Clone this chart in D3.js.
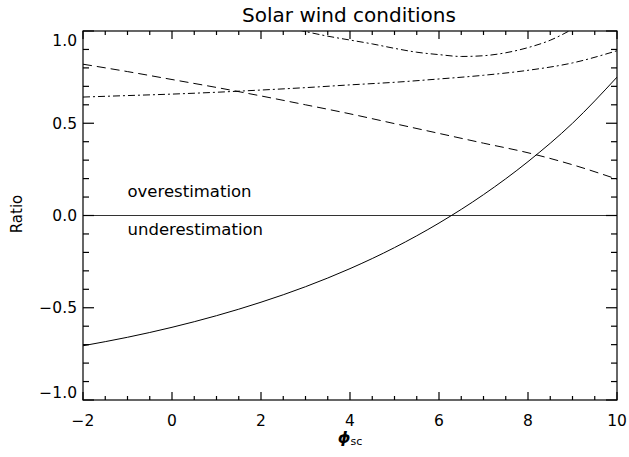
<!DOCTYPE html>
<html>
<head>
<meta charset="utf-8">
<script src="https://cdn.jsdelivr.net/npm/d3@7"></script>
<style>
  html, body { margin: 0; padding: 0; background: #fff; }
  svg { display: block; }
  text { font-family: "DejaVu Sans", sans-serif; fill: #000; }
</style>
</head>
<body>
<svg id="chart" width="629" height="457"></svg>
<script>
// ---- data ----
const titleText = "Solar wind conditions";
const xTicks = [-2, 0, 2, 4, 6, 8, 10];
const yTicks = [-1.0, -0.5, 0.0, 0.5, 1.0];
const xMinorTicks = [-1.5, -1, -0.5, 0.5, 1, 1.5, 2.5, 3, 3.5, 4.5, 5, 5.5, 6.5, 7, 7.5, 8.5, 9, 9.5];
const yMinorTicks = [-0.9, -0.8, -0.7, -0.6, -0.4, -0.3, -0.2, -0.1, 0.1, 0.2, 0.3, 0.4, 0.6, 0.7, 0.8, 0.9];
const xDomain = [-2, 10];
const yDomain = [-1, 1];

const solidX = [-2, -1, 0, 1, 2, 3, 4, 5, 6, 7, 8, 9, 10];
const solidY = [-0.706, -0.660, -0.606, -0.543, -0.470, -0.386, -0.288, -0.174, -0.041, 0.113, 0.292, 0.500, 0.750];

const dashedX = [-2, -1, 0, 1, 2, 3, 4, 5, 6, 7, 8, 9, 10];
const dashedY = [0.82, 0.78, 0.737, 0.694, 0.648, 0.600, 0.551, 0.498, 0.445, 0.392, 0.340, 0.275, 0.197];

const dashDotLowX = [-2, -1, 0, 1, 2, 3, 4, 5, 6, 7, 8, 9, 10];
const dashDotLowY = [0.642, 0.65, 0.658, 0.668, 0.68, 0.693, 0.708, 0.722, 0.74, 0.76, 0.787, 0.827, 0.893];

const dashDotHighX = [2.5, 3, 3.5, 4, 4.5, 5, 5.5, 6, 6.5, 7, 7.5, 8, 8.5, 9, 9.3];
const dashDotHighY = [1.025, 0.997, 0.972, 0.951, 0.93, 0.906, 0.885, 0.872, 0.862, 0.866, 0.882, 0.91, 0.95, 1.01, 1.05];

const zeroLineX = [-2, 10];
const zeroLineY = [0, 0];

const annotations = [
  { text: "overestimation", x: -1, y: 0.10 },
  { text: "underestimation", x: -1, y: -0.105 }
];

// ---- layout ----
const L = 83, R = 617, T = 31, B = 400;
const svg = d3.select("#chart");

const x = d3.scaleLinear().domain(xDomain).range([L, R]);
const y = d3.scaleLinear().domain(yDomain).range([B, T]);

svg.append("defs").append("clipPath").attr("id", "plotclip")
  .append("rect").attr("x", L).attr("y", T).attr("width", R - L).attr("height", B - T);

const zip = (xs, ys) => xs.map((v, i) => [v, ys[i]]);
const line = d3.line().x(d => x(d[0])).y(d => y(d[1])).curve(d3.curveMonotoneX);

const plot = svg.append("g").attr("clip-path", "url(#plotclip)");

plot.append("path").datum(zip(zeroLineX, zeroLineY)).attr("d", line)
  .attr("fill", "none").attr("stroke", "#333").attr("stroke-width", 1);

plot.append("path").datum(zip(solidX, solidY)).attr("d", line)
  .attr("fill", "none").attr("stroke", "#000").attr("stroke-width", 1);

plot.append("path").datum(zip(dashedX, dashedY)).attr("d", line)
  .attr("fill", "none").attr("stroke", "#000").attr("stroke-width", 1)
  .attr("stroke-dasharray", "9,5");

plot.append("path").datum(zip(dashDotLowX, dashDotLowY)).attr("d", line)
  .attr("fill", "none").attr("stroke", "#000").attr("stroke-width", 1)
  .attr("stroke-dasharray", "7,3,2,3");

plot.append("path").datum(zip(dashDotHighX, dashDotHighY)).attr("d", line)
  .attr("fill", "none").attr("stroke", "#000").attr("stroke-width", 1)
  .attr("stroke-dasharray", "7,3,2,3");

// ---- ticks (IDL style: inward on all four sides) ----
const XMAJ = 8, XMIN = 4, YMAJ = 11, YMIN = 6;
const seg = d3.line();
const tickSegs = [];
xMinorTicks.forEach(v => { tickSegs.push([[x(v), B], [x(v), B - XMIN]]); tickSegs.push([[x(v), T], [x(v), T + XMIN]]); });
xTicks.forEach(v => { tickSegs.push([[x(v), B], [x(v), B - XMAJ]]); tickSegs.push([[x(v), T], [x(v), T + XMAJ]]); });
yMinorTicks.forEach(v => { tickSegs.push([[L, y(v)], [L + YMIN, y(v)]]); tickSegs.push([[R, y(v)], [R - YMIN, y(v)]]); });
yTicks.forEach(v => { tickSegs.push([[L, y(v)], [L + YMAJ, y(v)]]); tickSegs.push([[R, y(v)], [R - YMAJ, y(v)]]); });

svg.append("g").selectAll("path").data(tickSegs).join("path")
  .attr("d", d => seg(d))
  .attr("fill", "none").attr("stroke", "#000").attr("stroke-width", 1.2);

// frame
svg.append("rect").attr("x", L).attr("y", T).attr("width", R - L).attr("height", B - T)
  .attr("fill", "none").attr("stroke", "#000").attr("stroke-width", 1.2);

// tick labels
const fmtY = d3.format(".1f");
const fmtX = d3.format("d");
svg.selectAll(".xl").data(xTicks).enter().append("text").attr("class", "xl")
  .attr("x", d => x(d)).attr("y", B + 26).attr("text-anchor", "middle")
  .attr("font-size", 15.5).text(d => fmtX(d));
svg.selectAll(".yl").data(yTicks).enter().append("text").attr("class", "yl")
  .attr("x", L - 6).attr("y", d => y(d)).attr("text-anchor", "end")
  .attr("dy", d => d === 1 ? "0.95em" : (d === -1 ? "-0.1em" : "0.35em"))
  .attr("font-size", 15.5).text(d => fmtY(d));

// ---- texts ----
svg.append("text").attr("x", 349).attr("y", 22).attr("text-anchor", "middle")
  .attr("font-size", 20).text(titleText);

svg.append("text").attr("transform", "translate(22,214) rotate(-90)")
  .attr("text-anchor", "middle").attr("font-size", 15).text("Ratio");

const xl = svg.append("text").attr("x", 350).attr("y", 443).attr("text-anchor", "middle");
xl.append("tspan").attr("font-size", 16).attr("font-style", "italic").attr("font-weight", "bold").text("ϕ");
xl.append("tspan").attr("font-size", 11).attr("dy", 2).text("sc");

svg.selectAll(".annot").data(annotations).enter().append("text")
  .attr("class", "annot")
  .attr("x", d => x(d.x)).attr("y", d => y(d.y))
  .attr("font-size", 16.5).text(d => d.text);
</script>
</body>
</html>
